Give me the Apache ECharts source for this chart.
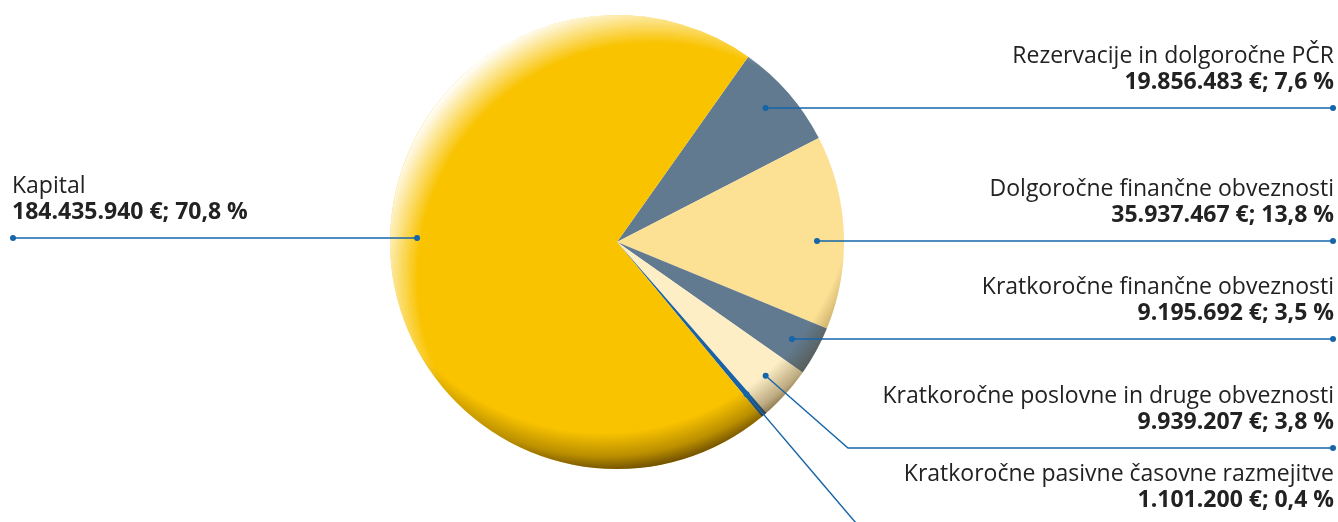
<!DOCTYPE html>
<html><head><meta charset="utf-8">
<script src="https://cdn.jsdelivr.net/npm/echarts@6/dist/echarts.min.js"></script>
<style>html,body{margin:0;padding:0;background:#fff}#c{width:1338px;height:522px}</style>
</head><body><div id="c"></div>
<script>
// ---- data ----
const categories = ['Rezervacije in dolgoročne PČR','Dolgoročne finančne obveznosti','Kratkoročne finančne obveznosti','Kratkoročne poslovne in druge obveznosti','Kratkoročne pasivne časovne razmejitve','Kapital'];
const amounts = [19856483, 35937467, 9195692, 9939207, 1101200, 184435940];
const percents = ['7,6', '13,8', '3,5', '3,8', '0,4', '70,8'];
const sliceColors = ['#627A8F','#FCE094','#627A8F','#FDEEC6','#1A62A5','#F9C300'];

// ---- layout ----
const CX = 617, CY = 242, R = 227, DOT_R = 200;
const START = 54.7;
const RIGHT_X = 1333, LEFT_X = 13;
const LINE_COLOR = '#1565A8';
const FONT = 'Open Sans';
const FS = 23;
const leaders = [
  {side:'right', y:108},
  {side:'right', y:241},
  {side:'right', y:339},
  {side:'right', y:448, bend:848},
  {side:'right', ray:true, labelBottom:513},
  {side:'left', y:238}
];

const total = amounts.reduce((a,b)=>a+b,0);
function midAngle(i){
  let acc = 0;
  for (let k=0;k<i;k++) acc += amounts[k];
  const a0 = -START*Math.PI/180 + acc/total*2*Math.PI;
  return a0 + amounts[i]/total*Math.PI;
}
function leaderPts(i){
  const L = leaders[i], a = midAngle(i);
  if (L.ray){
    const p0 = [CX+DOT_R*Math.cos(a), CY+DOT_R*Math.sin(a)];
    const t = (560-CY)/Math.sin(a);
    const p2 = [CX+t*Math.cos(a), 560];
    return [p0, [(p0[0]+p2[0])/2,(p0[1]+p2[1])/2], p2];
  }
  if (L.bend){
    const p0 = [CX+DOT_R*Math.cos(a), CY+DOT_R*Math.sin(a)];
    return [p0, [L.bend, L.y], [RIGHT_X, L.y]];
  }
  const dy = L.y - CY;
  const dx = Math.sqrt(DOT_R*DOT_R - dy*dy);
  if (L.side === 'right'){
    const p0 = [CX+dx, L.y];
    return [p0, [(p0[0]+RIGHT_X)/2, L.y], [RIGHT_X, L.y]];
  }
  const p0 = [CX-dx, L.y];
  return [p0, [(p0[0]+LEFT_X)/2, L.y], [LEFT_X, L.y]];
}
function fmt(n){ return String(n).replace(/\B(?=(\d{3})+(?!\d))/g,'.'); }

const chart = echarts.init(document.getElementById('c'), null, {renderer:'canvas'});
const pieData = categories.map((n,i)=>({name:n, value:amounts[i], itemStyle:{color:sliceColors[i]}}));
const labelData = categories.map((n,i)=>({name:n, value:amounts[i]}));

const option = {
  animation:false,
  backgroundColor:'#fff',
  series:[
    {type:'pie', center:[CX,CY], radius:R, startAngle:START, clockwise:true, silent:true, z:2,
     avoidLabelOverlap:false, label:{show:false}, labelLine:{show:false},
     itemStyle:{borderWidth:0}, data:pieData},
    {type:'pie', center:[CX,CY], radius:R, silent:true, z:3, label:{show:false}, labelLine:{show:false},
     itemStyle:{borderWidth:0, color:{type:'radial', x:0.58, y:0.58, r:0.61, colorStops:[
       {offset:0,color:'rgba(255,255,255,0)'},{offset:0.85,color:'rgba(255,255,255,0)'},{offset:1,color:'rgba(255,255,255,0.97)'}]}},
     data:[{value:1}]},
    {type:'pie', center:[CX,CY], radius:R, silent:true, z:4, label:{show:false}, labelLine:{show:false},
     itemStyle:{borderWidth:0, color:{type:'radial', x:0.47, y:0.37, r:0.64, colorStops:[
       {offset:0,color:'rgba(70,45,0,0)'},{offset:0.86,color:'rgba(70,45,0,0)'},
       {offset:0.94,color:'rgba(70,45,0,0.35)'},{offset:1,color:'rgba(70,45,0,0.85)'}]}},
     data:[{value:1}]},
    {type:'pie', center:[CX,CY], radius:R, startAngle:START, clockwise:true, silent:true, z:5,
     avoidLabelOverlap:false,
     itemStyle:{color:'rgba(0,0,0,0)', borderWidth:0},
     label:{show:true, position:'outer', fontFamily:FONT,
       formatter:(p)=>{
         const i = p.dataIndex, s = leaders[i].side === 'left' ? 'L' : 'R';
         return '{n'+s+'|'+categories[i]+'}\n{v'+s+'|'+fmt(amounts[i])+' €; '+percents[i]+' %}';
       },
       rich:{
         nR:{fontFamily:FONT, fontSize:FS, color:'#222', align:'right', lineHeight:26},
         vR:{fontFamily:FONT, fontSize:FS, fontWeight:'bold', color:'#222', align:'right', lineHeight:26},
         nL:{fontFamily:FONT, fontSize:FS, color:'#222', align:'left', lineHeight:26},
         vL:{fontFamily:FONT, fontSize:FS, fontWeight:'bold', color:'#222', align:'left', lineHeight:26}
       }},
     labelLine:{show:true, lineStyle:{color:LINE_COLOR, width:1.4}},
     labelLayout:(params)=>{
       const i = params.dataIndex, L = leaders[i];
       const pts = leaderPts(i);
       const bottom = L.ray ? L.labelBottom : L.y - 13;
       return {
         x: L.side === 'left' ? LEFT_X - 1 : RIGHT_X + 1,
         y: bottom,
         align: L.side === 'left' ? 'left' : 'right',
         verticalAlign: 'bottom',
         labelLinePoints: pts
       };
     },
     data:labelData}
  ]
};
chart.setOption(option);

// dots at leader ends
const dots = [];
leaders.forEach((L,i)=>{
  const pts = leaderPts(i);
  dots.push(pts[0]);
  if (!L.ray) dots.push(pts[2]);
});
chart.setOption({graphic: dots.map(p=>({type:'circle', silent:true, z:100,
  shape:{cx:p[0], cy:p[1], r:3}, style:{fill:LINE_COLOR}}))});
</script>
</body></html>
